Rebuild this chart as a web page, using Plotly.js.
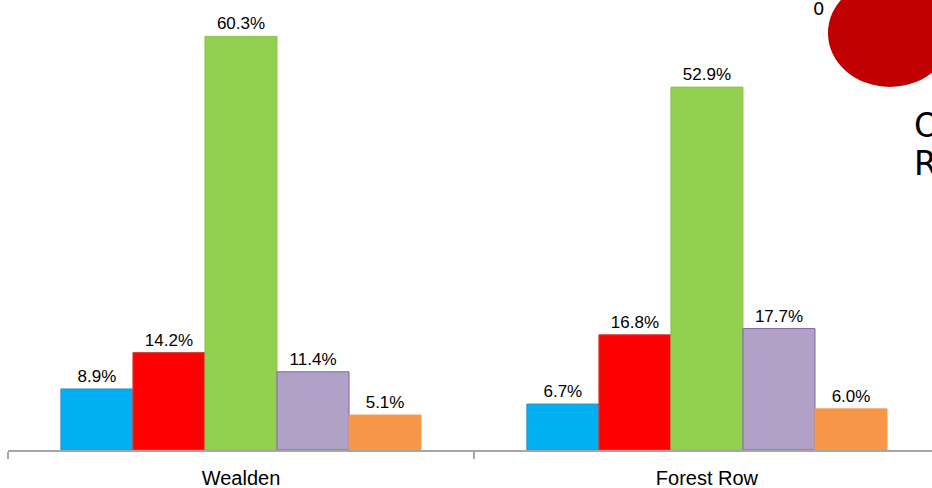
<!DOCTYPE html>
<html>
<head>
<meta charset="utf-8">
<script src="https://cdn.plot.ly/plotly-3.0.1.min.js"></script>
<style>html,body{margin:0;padding:0;overflow:hidden;background:#fff}#chart{width:932px;height:488px}</style>
</head>
<body>
<div id="chart"></div>
<script>
const categories = ["Wealden", "Forest Row"];
const seriesNames = ["Series 1", "Series 2", "Series 3", "Series 4", "Series 5"];
const series1 = [8.9, 6.7];
const series2 = [14.2, 16.8];
const series3 = [60.3, 52.9];
const series4 = [11.4, 17.7];
const series5 = [5.1, 6.0];
const allSeries = [series1, series2, series3, series4, series5];
const fillColors = ["#00B0F0", "#FF0000", "#92D050", "#B2A1C7", "#F79646"];
const lineColors = ["#3C8DC8", "#D04040", "#8CC050", "#8064A2", "#F0A060"];

const traces = allSeries.map((vals, i) => ({
  type: "bar",
  name: seriesNames[i],
  x: categories,
  y: vals,
  text: vals.map(v => v.toFixed(1) + "%"),
  textposition: "outside",
  cliponaxis: false,
  textfont: {family: "Liberation Sans, Arial, sans-serif", size: 17, color: "#000"},
  marker: {color: fillColors[i], line: {color: lineColors[i], width: 1}},
  hoverinfo: "none"
}));

const layout = {
  width: 932, height: 488,
  margin: {l: 8, r: 0, t: 0, b: 38},
  paper_bgcolor: "#fff", plot_bgcolor: "#fff",
  showlegend: false,
  barmode: "group",
  bargap: 0.227,
  bargroupgap: 0,
  font: {family: "Liberation Sans, Arial, sans-serif", color: "#000"},
  xaxis: {
    range: [-0.5, 1.483],
    showline: true, linecolor: "#A6A6A6", linewidth: 1.5,
    ticks: "outside", tickson: "boundaries", ticklen: 7, tickcolor: "#A6A6A6", tickwidth: 1.2,
    ticklabelstandoff: 9,
    tickfont: {size: 20, family: "Liberation Sans, Arial, sans-serif", color: "#000"},
    showgrid: false, zeroline: false, fixedrange: true
  },
  yaxis: {
    range: [0, 65.6], visible: false, showgrid: false, zeroline: false, fixedrange: true
  },
  shapes: [{
    type: "circle", xref: "paper", yref: "paper",
    x0: 0.8874, x1: 1.0216, y0: 0.8067, y1: 1.0467,
    fillcolor: "#C00000", line: {width: 0}, layer: "above"
  }],
  annotations: [
    {xref: "paper", yref: "paper", x: (818 - 8) / 924, y: (450 - 8) / 450, text: "0", showarrow: false,
     font: {family: "DejaVu Sans", size: 18, color: "#000"}, xanchor: "center", yanchor: "middle"},
    {xref: "paper", yref: "paper", x: (912 - 8) / 924, y: (450 - 125) / 450, text: "O", showarrow: false,
     font: {family: "DejaVu Sans", size: 33, color: "#000"}, xanchor: "left", yanchor: "middle"},
    {xref: "paper", yref: "paper", x: (912 - 8) / 924, y: (450 - 163) / 450, text: "R", showarrow: false,
     font: {family: "DejaVu Sans", size: 33, color: "#000"}, xanchor: "left", yanchor: "middle"}
  ]
};

Plotly.newPlot("chart", traces, layout, {staticPlot: true, displayModeBar: false});
</script>
</body>
</html>
